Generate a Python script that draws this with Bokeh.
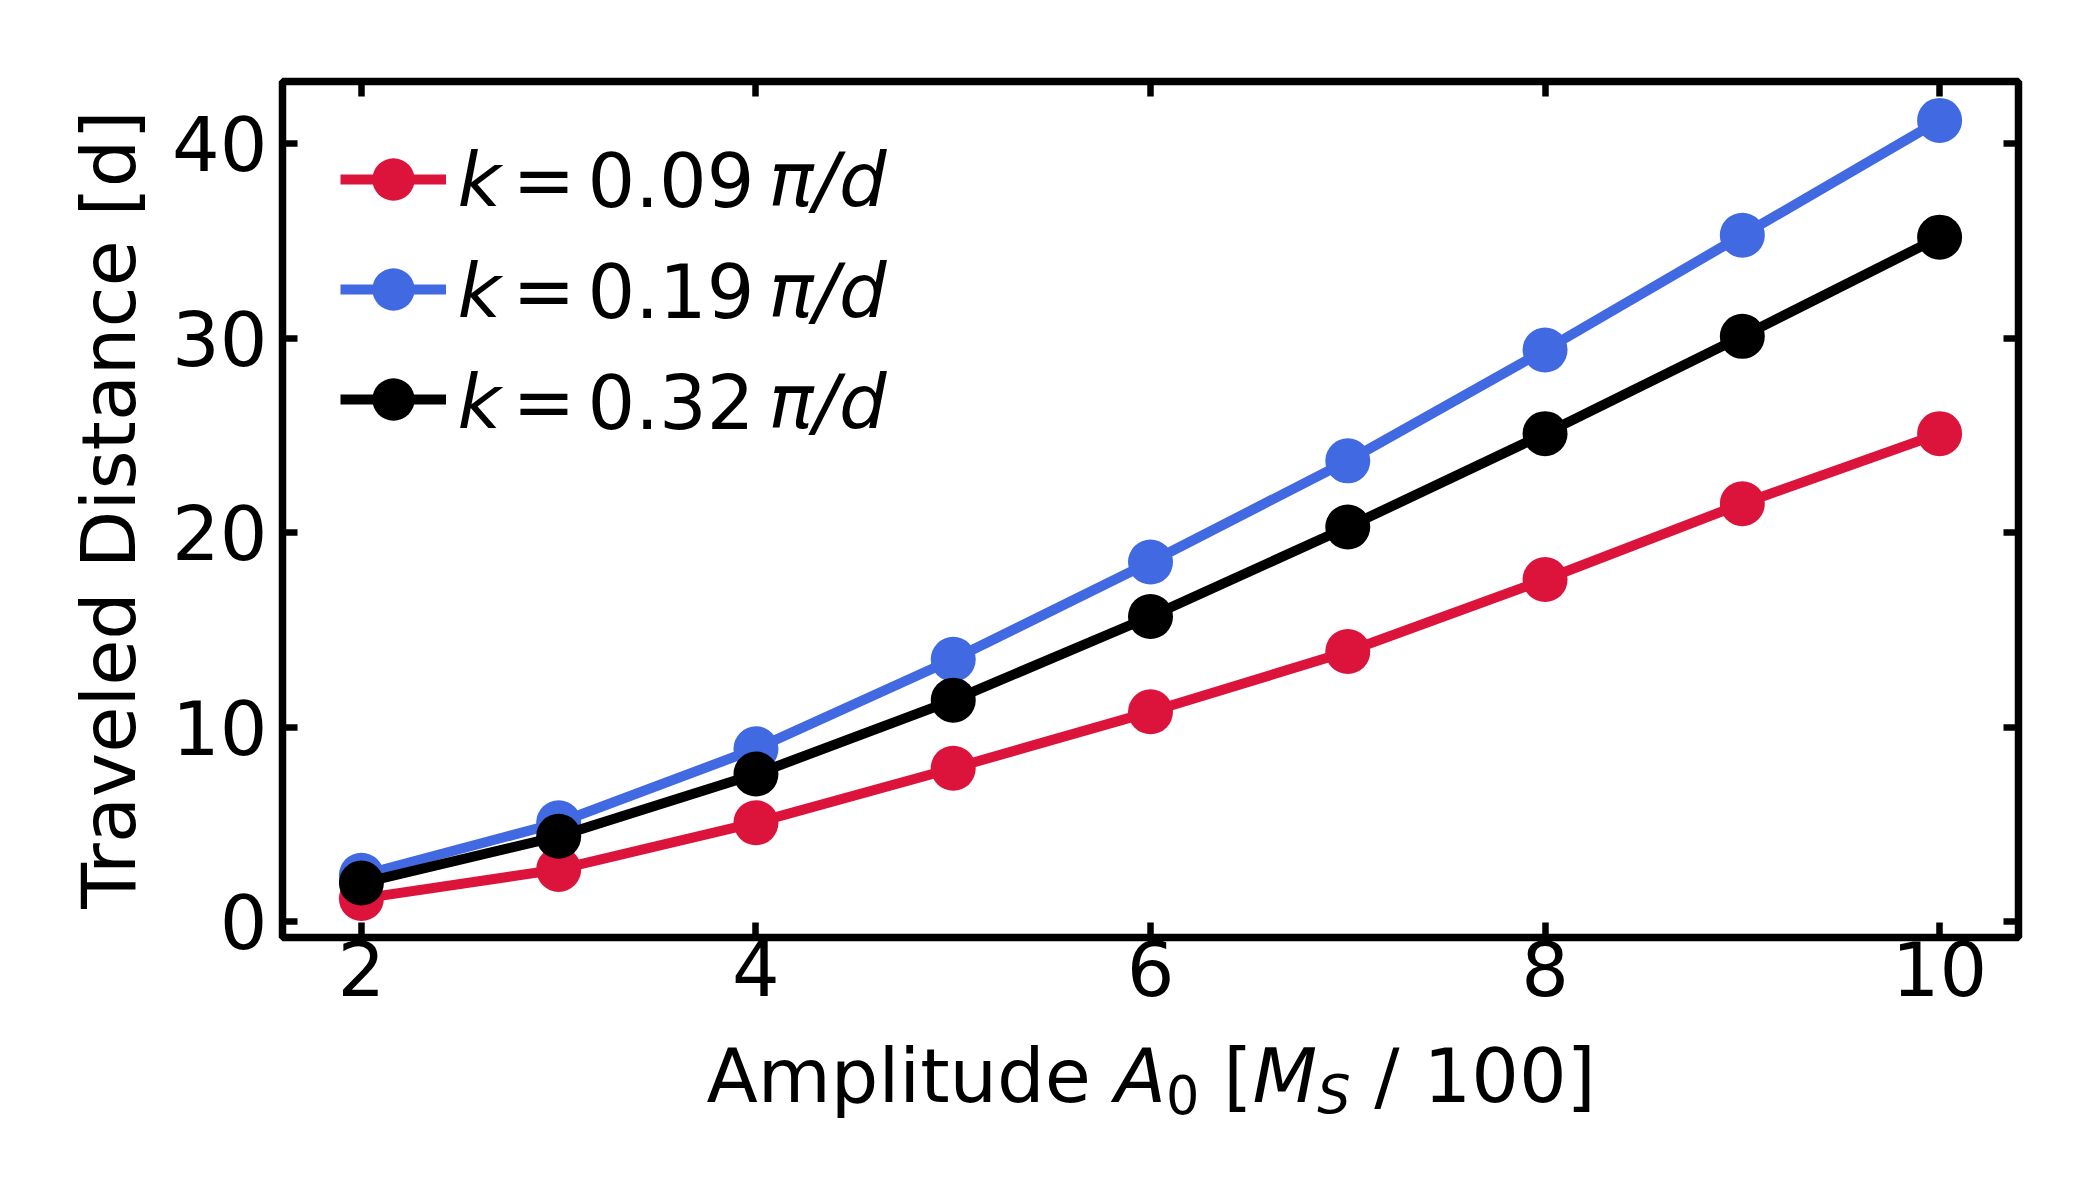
from bokeh.plotting import figure
from bokeh.layouts import column
from bokeh.models import (Range1d, LinearAxis, FixedTicker, Label, Legend,
                          LegendItem, CustomJSTickFormatter)
from bokeh.embed import file_html
from bokeh.resources import INLINE

# ---------------- data ----------------
amplitude = [2, 3, 4, 5, 6, 7, 8, 9, 10]
dist_k009 = [1.2, 2.7, 5.1, 7.9, 10.8, 13.9, 17.6, 21.5, 25.1]
dist_k019 = [2.4, 5.1, 8.9, 13.5, 18.5, 23.7, 29.4, 35.3, 41.2]
dist_k032 = [2.0, 4.4, 7.6, 11.4, 15.7, 20.3, 25.1, 30.1, 35.2]
series_k = ["0.09", "0.19", "0.32"]
series_colors = ["#DC143C", "#4169E1", "#000000"]
x_ticks = [2, 4, 6, 8, 10]
y_ticks = [0, 10, 20, 30, 40]

FONT = "DejaVu Sans"
FS = 75  # px
MID = 26.0  # px between text middle and baseline for 75px DejaVu Sans

W_FIG = 2080
H_MAIN = 1030
H_XLAB = 150
FRAME_LEFT = 282
FRAME_BOTTOM = 937

p = figure(width=W_FIG, height=H_MAIN,
           x_range=Range1d(1.6, 10.4), y_range=Range1d(-0.8, 43.2),
           output_backend="svg", toolbar_location=None,
           min_border_left=FRAME_LEFT, min_border_right=62,
           min_border_top=81, min_border_bottom=H_MAIN - FRAME_BOTTOM)
p.xgrid.visible = False
p.ygrid.visible = False
p.background_fill_color = "white"
p.border_fill_color = "white"
p.outline_line_color = "black"
p.outline_line_width = 7.5
p.outline_line_alpha = 1.0

bottom_axis = p.below[0]
left_axis = p.left[0]
top_axis = LinearAxis()
right_axis = LinearAxis()
p.add_layout(top_axis, "above")
p.add_layout(right_axis, "right")

for ax in [bottom_axis, top_axis]:
    ax.ticker = FixedTicker(ticks=x_ticks)
for ax in [left_axis, right_axis]:
    ax.ticker = FixedTicker(ticks=y_ticks)

for ax in [bottom_axis, left_axis, top_axis, right_axis]:
    ax.axis_line_color = None
    ax.major_tick_in = 15
    ax.major_tick_out = 0
    ax.major_tick_line_width = 6.5
    ax.major_tick_line_color = "black"
    ax.minor_tick_line_color = None
    ax.major_label_text_font = FONT
    ax.major_label_text_font_size = f"{FS}px"
    ax.major_label_text_color = "black"

for ax in [top_axis, right_axis]:
    ax.formatter = CustomJSTickFormatter(code="return ''")
    ax.major_label_text_font_size = "0px"

bottom_axis.major_label_standoff = 3
left_axis.major_label_standoff = 15

left_axis.axis_label = "Traveled Distance [d]"
left_axis.axis_label_text_font = FONT
left_axis.axis_label_text_font_size = f"{FS}px"
left_axis.axis_label_text_font_style = "normal"
left_axis.axis_label_text_color = "black"
left_axis.axis_label_standoff = 16

# ---------------- series ----------------
items = []
for ys, col in zip([dist_k009, dist_k019, dist_k032], series_colors):
    lr = p.line(amplitude, ys, line_color=col, line_width=10)
    sr = p.scatter(amplitude, ys, size=45, fill_color=col, line_color=col, line_width=0)
    items.append(LegendItem(label="", renderers=[lr, sr]))

legend = Legend(items=items, location=(58, 483), padding=0, spacing=0, margin=0,
                glyph_width=106, glyph_height=110, label_standoff=0,
                label_width=0, label_height=0, label_text_font_size="1px",
                border_line_color=None, background_fill_alpha=0)
p.add_layout(legend)

# legend texts (italic k, pi, d as in the math text)
row_baselines = [732, 621, 510]  # px above frame bottom
for kk, yb in zip(series_k, row_baselines):
    for txt, xo, style in [("k", 175, "italic"), ("=", 230, "normal"),
                           (kk, 305, "normal"), ("π/d", 486, "italic")]:
        p.add_layout(Label(x=xo, y=yb + MID, x_units="screen", y_units="screen", text=txt,
                           text_font=FONT, text_font_size=f"{FS}px", text_font_style=style,
                           text_color="black", text_baseline="middle",
                           text_align="left"))

# ---------------- x-axis label strip: "Amplitude A_0 [M_S / 100]" ----------------
# (its frame is aligned with the main frame by the column layout)
q = figure(width=W_FIG, height=H_XLAB, x_range=Range1d(0, 1), y_range=Range1d(0, 1),
           output_backend="svg", toolbar_location=None,
           x_axis_type=None, y_axis_type=None,
           min_border_left=0, min_border_right=0, min_border_top=0, min_border_bottom=0)
q.outline_line_color = None
q.background_fill_color = "white"
q.border_fill_color = "white"

W = {"A": 1401, "m": 1995, "p": 1300, "l": 569, "i": 569, "t": 803, "u": 1298,
     "d": 1300, "e": 1260, " ": 651, "[": 799, "]": 799, "M": 1767, "S": 1300,
     "/": 690, "0": 1303, "1": 1303}
def tw(s, fs):
    return sum(W[c] for c in s) * fs / 2048.0

SUB = FS * 0.7
MID_SUB = MID * 0.7
base = H_XLAB - (1101 - H_MAIN)      # main baseline, px above strip bottom
sub_base = H_XLAB - (1112 - H_MAIN)  # subscript baseline
segments = [("Amplitude ", FS, "normal", False), ("A", FS, "italic", False),
            ("0", SUB, "normal", True), (" [", FS, "normal", False),
            ("M", FS, "italic", False), ("S", SUB, "italic", True),
            (" / 100]", FS, "normal", False)]
xcur = 706.0 - FRAME_LEFT
for txt, fs, style, is_sub in segments:
    shown = txt.lstrip(" ")
    lead = tw(txt[:len(txt) - len(shown)], fs)
    shown = shown.rstrip(" ")
    yy = (sub_base + MID_SUB) if is_sub else (base + MID)
    q.add_layout(Label(x=xcur + lead, y=yy, x_units="screen", y_units="screen",
                       text=shown, text_font=FONT, text_font_size=f"{fs:.1f}px",
                       text_font_style=style, text_color="black",
                       text_baseline="middle", text_align="left"))
    xcur += tw(txt, fs)

layout = column(p, q, spacing=0)
open("out.html", "w").write(file_html(layout, INLINE))
